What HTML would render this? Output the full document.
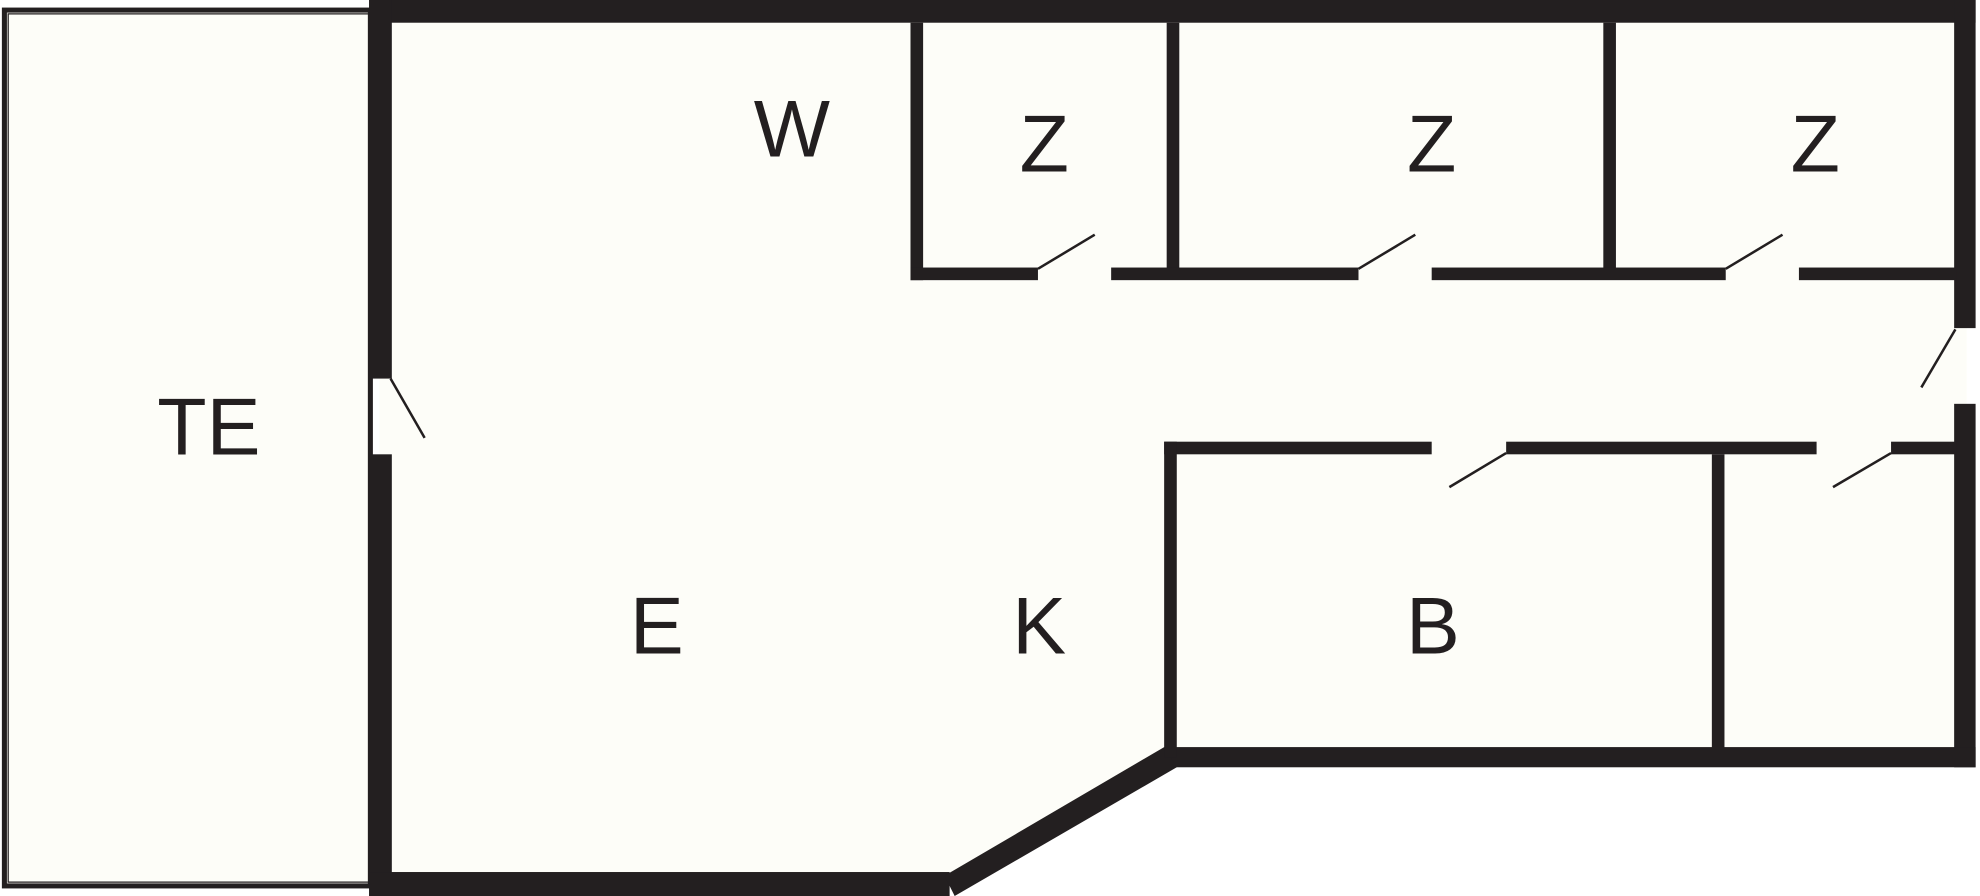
<!DOCTYPE html>
<html><head><style>html,body{margin:0;padding:0;background:#fff}svg{display:block}</style></head>
<body>
<svg width="1980" height="896" viewBox="0 0 1568 710" xmlns="http://www.w3.org/2000/svg">
<rect width="1568" height="710" fill="#fff"/>
<!-- TE -->
<rect x="3" y="8" width="290" height="694" fill="#fdfdf8" stroke="#231f20" stroke-width="4"/>
<rect x="6" y="11" width="287" height="688" fill="none" stroke="#231f20" stroke-width="1"/>
<!-- interior fill -->
<polygon points="300,8 1558,8 1558,600 928,600 752,700 300,700" fill="#fdfdf8"/>
<g fill="#231f20">
<!-- outer walls -->
<rect x="292" y="0" width="1273" height="18"/>
<rect x="292" y="0" width="18" height="300"/>
<rect x="292" y="360" width="18" height="350"/>
<rect x="292" y="691" width="460" height="19"/>
<rect x="1548" y="0" width="17" height="260"/>
<rect x="1548" y="320" width="17" height="288"/>
<rect x="922" y="592" width="643" height="16"/>
<polygon points="748,694 922,592 932,608 756,710"/>
<!-- Z rooms -->
<rect x="721" y="18" width="10" height="204"/>
<rect x="924" y="18" width="10" height="200"/>
<rect x="1270" y="18" width="10" height="200"/>
<rect x="721" y="212" width="101" height="10"/>
<rect x="880" y="212" width="196" height="10"/>
<rect x="1134" y="212" width="233" height="10"/>
<rect x="1425" y="212" width="125" height="10"/>
<!-- lower block -->
<rect x="922" y="350" width="212" height="10"/>
<rect x="1193" y="350" width="246" height="10"/>
<rect x="1498" y="350" width="52" height="10"/>
<rect x="922" y="350" width="10" height="250"/>
<rect x="1356" y="360" width="10" height="234"/>
</g>
<g stroke="#231f20" stroke-width="2">
<line x1="822" y1="213" x2="867" y2="186"/>
<line x1="1076" y1="213" x2="1121" y2="186"/>
<line x1="1367" y1="213" x2="1412" y2="186"/>
<line x1="1193" y1="359" x2="1148" y2="386"/>
<line x1="1498" y1="359" x2="1452" y2="386"/>
<line x1="1549" y1="261" x2="1522" y2="307"/>
<line x1="309" y1="300" x2="336" y2="347"/>
</g>
<g font-family="Liberation Sans, sans-serif" font-size="64" fill="#231f20" text-anchor="middle">
<text x="165" y="360">TE</text>
<text x="627" y="124">W</text>
<text x="827" y="136">Z</text>
<text x="1134" y="136">Z</text>
<text x="1438" y="136">Z</text>
<text x="520" y="518">E</text>
<text x="823" y="518">K</text>
<text x="1135" y="518">B</text>
</g>
</svg>
</body></html>
